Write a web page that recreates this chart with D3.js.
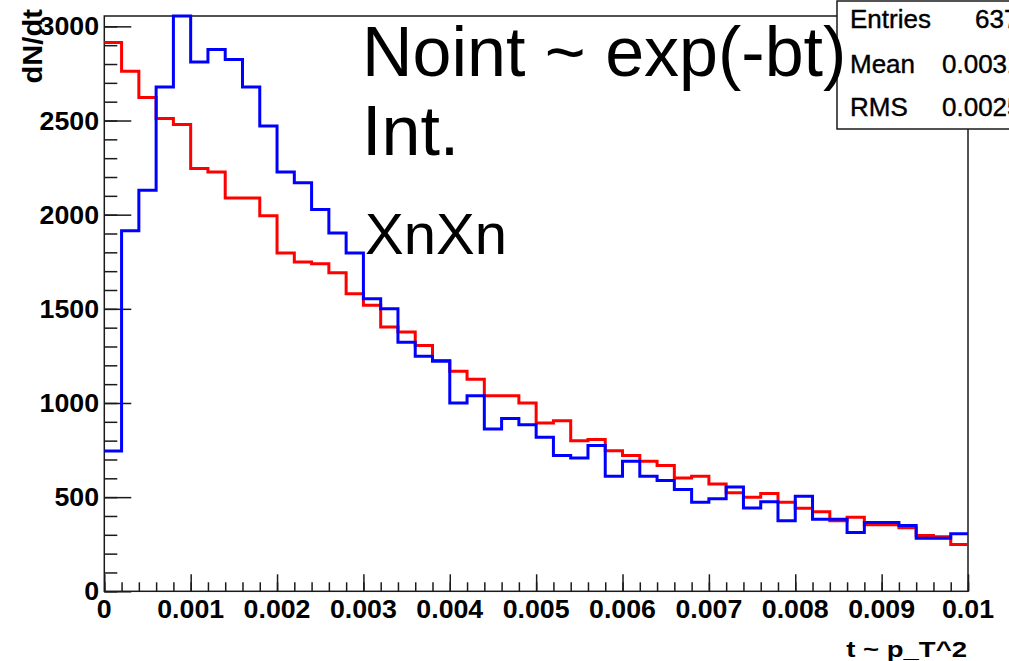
<!DOCTYPE html>
<html>
<head>
<meta charset="utf-8">
<script src="https://cdn.jsdelivr.net/npm/d3@7"></script>
<style>
  html, body { margin: 0; padding: 0; background: #fff; }
  svg { display: block; }
</style>
</head>
<body>
<svg id="chart" width="1009" height="661"></svg>
<script>
// t ~ pT^2 spectra, 50 bins over [0, 0.01]
const binLow = 0;
const binWidth = 0.0002;

// exp(-bt) reference (no interference)
const noint = [2914, 2762, 2622, 2511, 2479, 2245, 2227, 2089, 2089, 1994,
               1797, 1749, 1740, 1692, 1580, 1519, 1404, 1377, 1305, 1225,
               1168, 1126, 1039, 1039, 1000, 894, 906, 800, 806, 747,
               721, 690, 668, 602, 611, 570, 523, 499, 519, 473,
               441, 423, 375, 393, 354, 354, 337, 296, 290, 248];

// with interference
const interf = [745, 1914, 2130, 2678, 3150, 2811, 2877, 2824, 2678, 2471,
                2227, 2169, 2027, 1903, 1797, 1553, 1500, 1322, 1248, 1221,
                1000, 1038, 862, 917, 885, 818, 721, 708, 774, 611,
                690, 611, 588, 540, 473, 491, 554, 443, 475, 375,
                505, 382, 382, 312, 366, 366, 350, 282, 282, 305];

const xTicks = [0, 0.001, 0.002, 0.003, 0.004, 0.005, 0.006, 0.007, 0.008, 0.009, 0.01];
const xTickLabels = ["0", "0.001", "0.002", "0.003", "0.004", "0.005", "0.006", "0.007", "0.008", "0.009", "0.01"];
const yTicks = [0, 500, 1000, 1500, 2000, 2500, 3000];
const yTickLabels = ["0", "500", "1000", "1500", "2000", "2500", "3000"];

const statNames = ["Entries", "Mean", "RMS"];
const statValues = ["63748", "0.003147", "0.002521"];

const annotations = ["Noint ~ exp(-bt)", "Int.", "XnXn"];

const svg = d3.select("#chart");
const frame = { left: 104.3, right: 968, top: 16, bottom: 591.3 };

const x = d3.scaleLinear().domain([0, 0.01]).range([frame.left, frame.right]);
const y = d3.scaleLinear().domain([0, 3055]).range([frame.bottom, frame.top]).clamp(true);

const axisColor = "#1a1a1a";
const labelFont = "'Liberation Sans', Arial, Helvetica, sans-serif";

// frame
svg.append("rect")
  .attr("x", frame.left).attr("y", frame.top)
  .attr("width", frame.right - frame.left).attr("height", frame.bottom - frame.top)
  .attr("fill", "none").attr("stroke", axisColor).attr("stroke-width", 1.5);

// minor ticks
const xMinor = d3.range(0, 51).map(i => binLow + i * binWidth);
const yMinor = d3.range(0, 31).map(i => i * 100);

const xAxisMinor = d3.axisBottom(x).tickValues(xMinor).tickSize(-9).tickFormat("");
const xAxisMajor = d3.axisBottom(x).tickValues(xTicks).tickSize(-17).tickFormat("");
const yAxisMinor = d3.axisLeft(y).tickValues(yMinor).tickSize(-13).tickFormat("");
const yAxisMajor = d3.axisLeft(y).tickValues(yTicks).tickSize(-27).tickFormat("");

function styleAxis(g) {
  g.select(".domain").remove();
  g.selectAll("line").attr("stroke", axisColor).attr("stroke-width", 1.5);
}
svg.append("g").attr("transform", `translate(0,${frame.bottom})`).call(xAxisMinor).call(styleAxis);
svg.append("g").attr("transform", `translate(0,${frame.bottom})`).call(xAxisMajor).call(styleAxis);
svg.append("g").attr("transform", `translate(${frame.left},0)`).call(yAxisMinor).call(styleAxis);
svg.append("g").attr("transform", `translate(${frame.left},0)`).call(yAxisMajor).call(styleAxis);

// tick labels
const sx = 1.07;
svg.append("g").selectAll("text")
  .data(xTicks)
  .join("text")
  .attr("transform", d => `translate(${x(d)},618) scale(${sx},1)`)
  .attr("text-anchor", "middle")
  .attr("font-family", labelFont).attr("font-weight", "bold").attr("font-size", 25)
  .attr("fill", "#000")
  .text((d, i) => xTickLabels[i]);

svg.append("g").selectAll("text")
  .data(yTicks)
  .join("text")
  .attr("transform", d => `translate(99,${y(d) + 9}) scale(${sx},1)`)
  .attr("text-anchor", "end")
  .attr("font-family", labelFont).attr("font-weight", "bold").attr("font-size", 25)
  .attr("fill", "#000")
  .text((d, i) => yTickLabels[i]);

// axis titles
svg.append("text")
  .attr("transform", `translate(967,657) scale(1.25,1)`)
  .attr("text-anchor", "end")
  .attr("font-family", labelFont).attr("font-weight", "bold").attr("font-size", 22)
  .attr("fill", "#000")
  .text("t ~ p_T^2");

svg.append("text")
  .attr("transform", `translate(42,9) rotate(-90) scale(1.08,1)`)
  .attr("text-anchor", "end")
  .attr("font-family", labelFont).attr("font-weight", "bold").attr("font-size", 27)
  .attr("fill", "#000")
  .text("dN/dt");

// histogram outlines
const step = d3.line()
  .x(d => x(d[0]))
  .y(d => y(d[1]))
  .curve(d3.curveStepAfter);

function histPoints(vals) {
  const pts = vals.map((v, i) => [binLow + i * binWidth, v]);
  pts.push([binLow + vals.length * binWidth, vals[vals.length - 1]]);
  return pts;
}

svg.append("path")
  .attr("d", step(histPoints(noint)))
  .attr("fill", "none").attr("stroke", "#ff0000").attr("stroke-width", 3)
  .attr("stroke-linejoin", "miter");

svg.append("path")
  .attr("d", step(histPoints(interf)))
  .attr("fill", "none").attr("stroke", "#0000ff").attr("stroke-width", 3)
  .attr("stroke-linejoin", "miter");

// statistics box
const annFont = "'Liberation Sans', Arial, Helvetica, sans-serif";
const box = svg.append("g");
box.append("rect")
  .attr("x", 837).attr("y", 1).attr("width", 300).attr("height", 128)
  .attr("fill", "#fff").attr("stroke", axisColor).attr("stroke-width", 1.5);
const rowY = [28, 73, 116];
const valueX = [975, 942, 942];
box.selectAll("text.name")
  .data(statNames)
  .join("text").attr("class", "name")
  .attr("x", 850).attr("y", (d, i) => rowY[i])
  .attr("font-family", annFont).attr("font-size", 26).attr("fill", "#000")
  .attr("stroke", "#000").attr("stroke-width", 0.4)
  .text(d => d);
box.selectAll("text.val")
  .data(statValues)
  .join("text").attr("class", "val")
  .attr("x", (d, i) => valueX[i]).attr("y", (d, i) => rowY[i])
  .attr("font-family", annFont).attr("font-size", 26).attr("fill", "#000")
  .attr("stroke", "#000").attr("stroke-width", 0.4)
  .text(d => d);

// annotations (drawn over the statistics box)
svg.append("text").attr("x", 362).attr("y", 76)
  .attr("font-family", annFont).attr("font-size", 70).attr("fill", "#000")
  .text(annotations[0]);
svg.append("text").attr("x", 362).attr("y", 155)
  .attr("font-family", annFont).attr("font-size", 70).attr("fill", "#000")
  .text(annotations[1]);
svg.append("text").attr("x", 365).attr("y", 254)
  .attr("font-family", annFont).attr("font-size", 58).attr("fill", "#000")
  .text(annotations[2]);
</script>
</body>
</html>
